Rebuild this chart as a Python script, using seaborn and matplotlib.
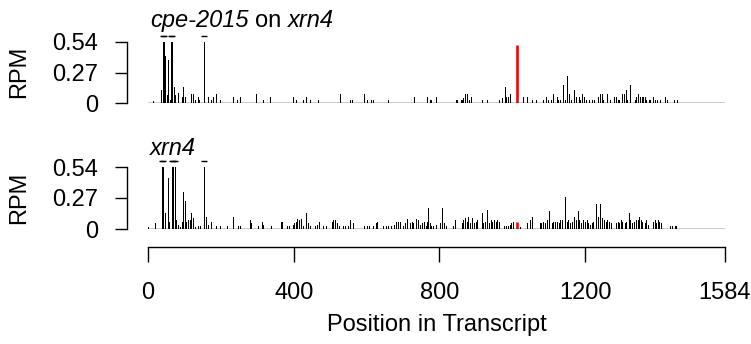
import numpy as np
import matplotlib
matplotlib.use('Agg')
import matplotlib.pyplot as plt
import seaborn as sns

sns.set_style('white')
plt.rcParams['font.family'] = ['Liberation Sans', 'DejaVu Sans']
plt.rcParams['text.color'] = 'black'
plt.rcParams['xtick.color'] = 'black'
plt.rcParams['ytick.color'] = 'black'
plt.rcParams['axes.labelcolor'] = 'black'

# ---- data ----
x_max = 1584
y_max = 0.54
x_ticks = [0, 400, 800, 1200, 1584]
y_ticks = [0, 0.27, 0.54]
y_labels = ['0', '0.27', '0.54']

site_pos = 1012          # highlighted position (red)
cpe_site_rpm = 0.51
xrn4_site_rpm = 0.064

# cpe-2015 on xrn4
cpe_pos = [13, 37, 40, 43, 48, 51, 56, 60, 64, 67, 72, 75, 81, 92, 97, 101, 117, 124, 128,
           136, 141, 155, 165, 172, 179, 187, 198, 232, 245, 252, 296, 316, 334, 397, 405,
           426, 435, 446, 466, 526, 554, 561, 592, 600, 613, 618, 660, 730, 767, 774, 777,
           790, 845, 849, 858, 862, 866, 870, 877, 882, 888, 916, 932, 964, 971, 979, 984,
           989, 994, 1029, 1040, 1053, 1065, 1083, 1093, 1099, 1105, 1111, 1122, 1126, 1132,
           1138, 1144, 1150, 1155, 1160, 1170, 1176, 1182, 1186, 1192, 1197, 1203, 1210, 1219,
           1225, 1234, 1241, 1246, 1250, 1259, 1268, 1280, 1285, 1289, 1293, 1301, 1306, 1311,
           1316, 1323, 1336, 1341, 1346, 1350, 1355, 1360, 1365, 1368, 1374, 1379, 1387, 1392,
           1398, 1405, 1420, 1425, 1443, 1453]
cpe_rpm = [0.02, 0.115, 0.9, 0.9, 0.42, 0.07, 0.38, 0.03, 0.9, 0.9, 0.14, 0.07, 0.085, 0.056,
           0.14, 0.056, 0.08, 0.08, 0.027, 0.056, 0.027, 0.8, 0.056, 0.027, 0.056, 0.08, 0.027,
           0.056, 0.027, 0.056, 0.08, 0.027, 0.056, 0.056, 0.027, 0.027, 0.056, 0.027, 0.027,
           0.08, 0.027, 0.027, 0.08, 0.027, 0.027, 0.027, 0.027, 0.056, 0.056, 0.027, 0.027,
           0.056, 0.027, 0.027, 0.027, 0.027, 0.04, 0.08, 0.08, 0.027, 0.056, 0.027, 0.027,
           0.027, 0.04, 0.14, 0.056, 0.056, 0.08, 0.056, 0.056, 0.027, 0.027, 0.027, 0.056,
           0.027, 0.027, 0.08, 0.056, 0.027, 0.027, 0.16, 0.027, 0.24, 0.08, 0.027, 0.115,
           0.056, 0.056, 0.027, 0.08, 0.056, 0.027, 0.027, 0.027, 0.027, 0.056, 0.08, 0.08,
           0.027, 0.08, 0.027, 0.056, 0.056, 0.027, 0.027, 0.08, 0.08, 0.115, 0.027, 0.16,
           0.027, 0.056, 0.08, 0.056, 0.056, 0.056, 0.056, 0.027, 0.027, 0.027, 0.056, 0.027,
           0.027, 0.027, 0.056, 0.027, 0.027, 0.027]

# xrn4
xrn4_pos = [1, 19, 39, 42, 46, 48, 56, 58, 65, 69, 73, 75, 78, 82, 87, 92, 97, 101, 105, 110,
            114, 119, 124, 128, 137, 143, 155, 159, 165, 172, 187, 198, 216, 232, 246, 252,
            280, 284, 303, 312, 316, 337, 364, 369, 382, 387, 397, 400, 405, 410, 414, 419,
            426, 434, 438, 445, 459, 465, 469, 481, 488, 504, 509, 513, 518, 523, 536, 542,
            550, 554, 564, 594, 600, 607, 618, 625, 630, 646, 654, 660, 667, 674, 682, 687,
            691, 701, 706, 712, 718, 724, 728, 736, 740, 747, 753, 758, 762, 767, 770, 774,
            777, 783, 790, 801, 806, 812, 817, 836, 843, 861, 866, 870, 875, 879, 884, 889,
            894, 900, 904, 916, 921, 925, 932, 936, 941, 945, 950, 954, 959, 963, 977, 982,
            989, 993, 997, 1002, 1022, 1041, 1049, 1053, 1076, 1080, 1085, 1090, 1096, 1102,
            1108, 1112, 1117, 1122, 1127, 1132, 1137, 1144, 1149, 1154, 1159, 1163, 1170, 1174,
            1180, 1184, 1190, 1195, 1200, 1204, 1209, 1213, 1219, 1222, 1230, 1236, 1242, 1246,
            1251, 1256, 1260, 1266, 1271, 1284, 1289, 1293, 1298, 1302, 1309, 1313, 1320, 1324,
            1329, 1334, 1339, 1344, 1348, 1353, 1357, 1364, 1368, 1373, 1386, 1391, 1395, 1400,
            1404, 1409, 1432, 1439, 1446, 1450]
xrn4_rpm = [0.02, 0.055, 0.9, 0.9, 0.136, 0.136, 0.44, 0.064, 0.9, 0.9, 0.9, 0.18, 0.078, 0.035,
            0.02, 0.064, 0.32, 0.24, 0.064, 0.078, 0.078, 0.136, 0.1, 0.02, 0.029, 0.029, 0.8,
            0.107, 0.035, 0.064, 0.029, 0.029, 0.029, 0.107, 0.029, 0.029, 0.078, 0.05, 0.029,
            0.064, 0.035, 0.029, 0.064, 0.064, 0.029, 0.029, 0.035, 0.05, 0.064, 0.087, 0.078,
            0.087, 0.029, 0.136, 0.05, 0.029, 0.029, 0.035, 0.064, 0.029, 0.029, 0.064, 0.078,
            0.078, 0.05, 0.029, 0.029, 0.029, 0.029, 0.078, 0.05, 0.029, 0.029, 0.029, 0.029,
            0.05, 0.064, 0.029, 0.029, 0.029, 0.029, 0.035, 0.064, 0.064, 0.064, 0.029, 0.05,
            0.087, 0.05, 0.064, 0.05, 0.087, 0.078, 0.035, 0.05, 0.064, 0.029, 0.064, 0.18,
            0.05, 0.029, 0.029, 0.035, 0.05, 0.18, 0.05, 0.029, 0.029, 0.078, 0.05, 0.078,
            0.093, 0.064, 0.107, 0.05, 0.093, 0.05, 0.064, 0.078, 0.136, 0.05, 0.064, 0.165,
            0.05, 0.078, 0.064, 0.078, 0.064, 0.078, 0.064, 0.029, 0.029, 0.029, 0.035, 0.05,
            0.064, 0.02, 0.05, 0.078, 0.107, 0.05, 0.05, 0.064, 0.05, 0.078, 0.157, 0.05, 0.064,
            0.064, 0.064, 0.05, 0.078, 0.078, 0.28, 0.064, 0.078, 0.05, 0.064, 0.107, 0.078,
            0.157, 0.078, 0.05, 0.078, 0.064, 0.078, 0.05, 0.035, 0.05, 0.064, 0.215, 0.107,
            0.215, 0.093, 0.078, 0.064, 0.078, 0.064, 0.05, 0.05, 0.064, 0.05, 0.078, 0.064,
            0.05, 0.064, 0.136, 0.078, 0.05, 0.064, 0.078, 0.078, 0.107, 0.078, 0.064, 0.05,
            0.078, 0.035, 0.064, 0.078, 0.05, 0.078, 0.064, 0.05, 0.029, 0.029, 0.029, 0.029]

W, H = 751, 344
fs = 17
fig = plt.figure(figsize=(W / 100, H / 100), dpi=100)
renderer = fig.canvas.get_renderer()


def px_box(left, top, right, bottom):
    return [left / W, 1 - bottom / H, (right - left) / W, (bottom - top) / H]


ax1 = fig.add_axes(px_box(148, 42, 725, 103))
ax2 = fig.add_axes(px_box(148, 167, 725, 229))
axx = fig.add_axes(px_box(148, 246, 725, 247))


def spikes(ax, pos, rpm, site_rpm):
    pos = np.array(pos)
    rpm = np.array(rpm)
    ax.vlines(pos, 0, np.minimum(rpm, y_max), color='black', lw=0.72, antialiased=False)
    big = rpm > y_max
    ax.plot(pos[big], np.full(big.sum(), y_max + 0.05), ls='none', marker='_',
            ms=4, mew=1, color='black', clip_on=False)
    ax.vlines([site_pos], 0, [site_rpm], color='red', lw=1.9)
    ax.axhline(0, color='black', lw=1)
    ax.set_xlim(0, x_max)
    ax.set_ylim(0, y_max)
    ax.set_xticks([])
    ax.set_yticks(y_ticks)
    ax.set_yticklabels(y_labels)
    sns.despine(ax=ax, bottom=True, offset={'left': 15})
    ax.spines['left'].set_bounds(0, y_max)
    ax.spines['left'].set_linewidth(1)
    ax.spines['left'].set_color('black')
    ax.tick_params(axis='y', left=True, length=9, width=1, pad=12,
                   labelsize=fs, color='black')


def text_width(s, style):
    t = fig.text(0, 0, s, fontsize=fs, style=style)
    w = t.get_window_extent(renderer=renderer).width
    t.remove()
    return w


def rich_text(x_px, y_px, parts):
    space = text_width('a a', 'normal') - text_width('aa', 'normal')
    x = x_px
    for s, style in parts:
        if s == ' ':
            x += space
            continue
        fig.text(x / W, 1 - y_px / H, s, fontsize=fs, style=style,
                 ha='left', va='baseline')
        x += text_width(s, style)


spikes(ax1, cpe_pos, cpe_rpm, cpe_site_rpm)
spikes(ax2, xrn4_pos, xrn4_rpm, xrn4_site_rpm)

rich_text(150, 27, [('cpe-2015', 'italic'), (' ', None), ('on', 'normal'),
                    (' ', None), ('xrn4', 'italic')])
rich_text(150, 155, [('xrn4', 'italic')])
for yc in (72, 198):
    fig.text(19 / W, 1 - yc / H, 'RPM', fontsize=fs, rotation=90, ha='center', va='center')

# shared x axis
axx.set_xlim(0, x_max)
axx.set_yticks([])
axx.set_xticks(x_ticks)
sns.despine(ax=axx, left=True)
axx.spines['bottom'].set_linewidth(1)
axx.spines['bottom'].set_color('black')
axx.tick_params(axis='x', bottom=True, length=11, width=1, pad=14,
                labelsize=fs, color='black')
fig.text((148 + 725) / 2 / W, 1 - 325 / H, 'Position in Transcript',
         fontsize=fs, ha='center', va='center')

fig.savefig('out.png', dpi=100)
